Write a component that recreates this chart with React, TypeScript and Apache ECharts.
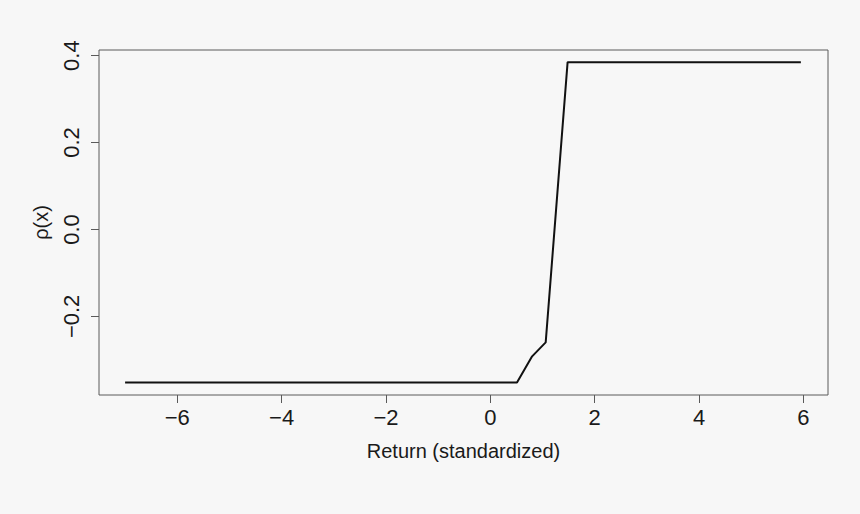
import React, { useEffect, useRef } from "react";
import * as echarts from "echarts";

const xValues = [-7, 0.51, 0.8, 1.06, 1.48, 5.95];
const rhoValues = [-0.352, -0.352, -0.292, -0.26, 0.385, 0.385];
const xTicks = [-6, -4, -2, 0, 2, 4, 6];
const yTicks = [-0.2, 0, 0.2, 0.4];
const xTitle = "Return (standardized)";
const yTitle = "ρ(x)";

const fmtX = (v: number) => (v < 0 ? "\u2212" : "") + String(Math.abs(Math.round(v)));
const fmtY = (v: number) => {
  const r = Math.round(v * 10) / 10;
  return (r < 0 ? "\u2212" : "") + Math.abs(r).toFixed(1);
};

export default function App() {
  const ref = useRef<HTMLDivElement>(null);
  useEffect(() => {
    if (!ref.current) return;
    const chart = echarts.init(ref.current, null, { renderer: "svg" });
    const font = "Liberation Sans";
    const axisColor = "#5a5a5a";
    const textColor = "#1a1a1a";
    chart.setOption({
      animation: false,
      backgroundColor: "#f7f7f7",
      grid: {
        left: 99,
        top: 50,
        right: 32,
        bottom: 119,
        show: true,
        borderColor: axisColor,
        borderWidth: 1,
        backgroundColor: "transparent",
      },
      xAxis: {
        type: "value",
        min: -7.5,
        max: 6.47,
        name: xTitle,
        nameLocation: "middle",
        nameGap: 46,
        nameTextStyle: { fontFamily: font, fontSize: 20, color: textColor },
        axisLine: { show: false, onZero: false },
        splitLine: { show: false },
        axisTick: {
          show: true,
          length: 8,
          customValues: xTicks,
          lineStyle: { color: axisColor, width: 1 },
        },
        axisLabel: {
          customValues: xTicks,
          formatter: fmtX,
          margin: 11,
          fontFamily: font,
          fontSize: 22,
          color: textColor,
        },
      },
      yAxis: {
        type: "value",
        min: -0.381,
        max: 0.413,
        name: yTitle,
        nameLocation: "middle",
        nameGap: 48,
        nameRotate: 90,
        nameTextStyle: { fontFamily: font, fontSize: 20, color: textColor },
        axisLine: { show: false, onZero: false },
        splitLine: { show: false },
        axisTick: {
          show: true,
          length: 8,
          customValues: yTicks,
          lineStyle: { color: axisColor, width: 1 },
        },
        axisLabel: {
          customValues: yTicks,
          formatter: fmtY,
          rotate: 90,
          margin: 17,
          fontFamily: font,
          fontSize: 22,
          color: textColor,
        },
      },
      series: [
        {
          type: "line",
          data: xValues.map((x, i) => [x, rhoValues[i]]),
          showSymbol: false,
          symbol: "none",
          lineStyle: { color: "#111111", width: 2 },
        },
      ],
    });
    return () => chart.dispose();
  }, []);
  return (
    <div
      ref={ref}
      style={{ position: "fixed", left: 0, top: 0, width: 860, height: 514, background: "#f7f7f7" }}
    />
  );
}
